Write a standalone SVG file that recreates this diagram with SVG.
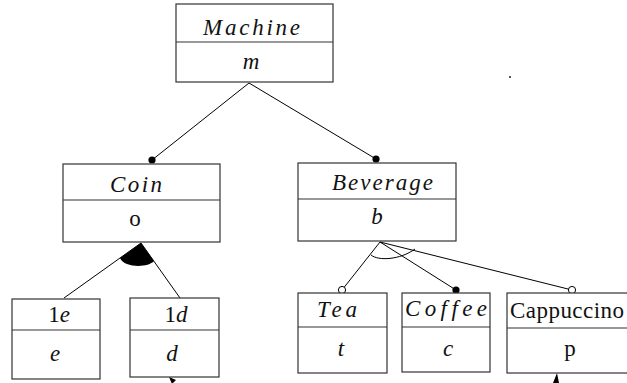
<svg xmlns="http://www.w3.org/2000/svg" width="627" height="383" viewBox="0 0 627 383">
  <style>
    .box { fill: #ffffff; stroke: #333333; stroke-width: 1.2; }
    .div { stroke: #333333; stroke-width: 1.2; }
    .lbl { font-size: 23px; fill: #111111; }
    .it { font-style: italic; }
    .mid { text-anchor: middle; }
    .edge { stroke: #000000; stroke-width: 1; fill: none; }
    .dot { fill: #000000; }
    .ring { fill: #ffffff; stroke: #000000; stroke-width: 1; }
  </style>

  <rect width="627" height="383" fill="#ffffff"/>

  <!-- connectors -->
  <g id="connectors">
    <!-- Machine -> Coin / Beverage (mandatory) -->
    <line class="edge" x1="249" y1="83" x2="152" y2="160"/>
    <line class="edge" x1="249" y1="83" x2="376" y2="159"/>
    <circle class="dot" cx="152" cy="160" r="3.6"/>
    <circle class="dot" cx="376" cy="159" r="3.6"/>

    <!-- Coin -> 1e / 1d (alternative group) -->
    <line class="edge" x1="141" y1="243" x2="64" y2="298"/>
    <line class="edge" x1="141" y1="243" x2="180" y2="298"/>
    <path class="dot" d="M141,243 L120,258 C124,268 148,268 154,261 Z"/>

    <!-- Beverage -> Tea / Coffee / Cappuccino -->
    <line class="edge" x1="380" y1="242" x2="342" y2="290"/>
    <line class="edge" x1="380" y1="242" x2="456" y2="290"/>
    <line class="edge" x1="380" y1="242" x2="572" y2="290"/>
    <path class="edge" d="M371,255 C378,261 400,260 415,249"/>
    <circle class="ring" cx="342" cy="290" r="3.6"/>
    <circle class="dot" cx="456" cy="290" r="3.6"/>
    <circle class="ring" cx="572" cy="290" r="3.6"/>

    <!-- incoming arrow tips at the bottom edge -->
    <polygon class="dot" points="169,377 176,380 172,384"/>
    <polygon class="dot" points="557,373 559,383 553,383"/>
  </g>

  <g font-family="'Liberation Serif', 'DejaVu Serif', 'Times New Roman', serif">
    <!-- Machine -->
    <g id="machine">
      <rect class="box" x="176" y="4" width="157" height="78"/>
      <line class="div" x1="176" y1="42" x2="333" y2="42"/>
      <text class="lbl it" x="203" y="35" textLength="97" lengthAdjust="spacing">Machine</text>
      <text class="lbl it mid" x="251" y="69">m</text>
    </g>

    <!-- Coin -->
    <g id="coin">
      <rect class="box" x="63" y="164" width="157" height="78"/>
      <line class="div" x1="63" y1="200" x2="220" y2="200"/>
      <text class="lbl it" x="110" y="192" textLength="52" lengthAdjust="spacing">Coin</text>
      <text class="lbl mid" x="135" y="226">o</text>
    </g>

    <!-- Beverage -->
    <g id="beverage">
      <rect class="box" x="298" y="163" width="158" height="78"/>
      <line class="div" x1="298" y1="199" x2="456" y2="199"/>
      <text class="lbl it" x="332" y="190" textLength="101" lengthAdjust="spacing">Beverage</text>
      <text class="lbl it mid" x="377" y="224">b</text>
    </g>

    <!-- 1e -->
    <g id="euro">
      <rect class="box" x="12" y="299" width="88" height="80"/>
      <line class="div" x1="12" y1="330" x2="100" y2="330"/>
      <text class="lbl mid" x="59" y="322">1<tspan class="it">e</tspan></text>
      <text class="lbl it mid" x="55" y="361">e</text>
    </g>

    <!-- 1d -->
    <g id="dollar">
      <rect class="box" x="130" y="298" width="89" height="79"/>
      <line class="div" x1="130" y1="330" x2="219" y2="330"/>
      <text class="lbl mid" x="176" y="322">1<tspan class="it">d</tspan></text>
      <text class="lbl it mid" x="172" y="361">d</text>
    </g>

    <!-- Tea -->
    <g id="tea">
      <rect class="box" x="298" y="293" width="89" height="80"/>
      <line class="div" x1="298" y1="327" x2="387" y2="327"/>
      <text class="lbl it" x="317" y="317" textLength="40" lengthAdjust="spacing">Tea</text>
      <text class="lbl it mid" x="341" y="356">t</text>
    </g>

    <!-- Coffee -->
    <g id="coffee">
      <rect class="box" x="402" y="293" width="88" height="79"/>
      <line class="div" x1="402" y1="327" x2="490" y2="327"/>
      <text class="lbl it" x="405" y="316" textLength="82" lengthAdjust="spacing">Coffee</text>
      <text class="lbl it mid" x="448" y="356">c</text>
    </g>

    <!-- Cappuccino -->
    <g id="cappuccino">
      <rect class="box" x="507" y="293" width="140" height="80"/>
      <line class="div" x1="507" y1="328" x2="647" y2="328"/>
      <text class="lbl" x="510" y="318" textLength="114" lengthAdjust="spacing">Cappuccino</text>
      <text class="lbl mid" x="570" y="356">p</text>
    </g>
  </g>

  <!-- stray speck -->
  <rect x="509" y="76" width="2" height="2" fill="#555555"/>
</svg>
